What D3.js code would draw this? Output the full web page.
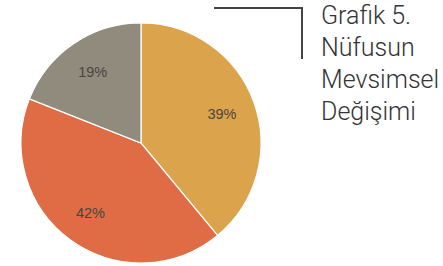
<!DOCTYPE html>
<html>
<head>
<meta charset="utf-8">
<script src="https://cdn.jsdelivr.net/npm/d3@7"></script>
<style>
  body { margin: 0; background: #fff; }
</style>
</head>
<body>
<div id="pie"></div>
<script>
// values
var labels = ["39%", "42%", "19%"];
var values = [39, 42, 19];
var colors = ["#dba34b", "#df6c45", "#918b7e"];
var titleLines = ["Grafik 5.", "Nüfusun", "Mevsimsel", "Değişimi"];

var width = 443,
    height = 266;

var svg = d3.select('#pie')
    .append('svg')
    .attr('width', width)
    .attr('height', height);

var radius = 120;

var g = svg.append("g")
    .attr("transform", "translate(141,143)");

var pie = d3.pie()
    .sort(null)
    .value(d => d);

var arc = d3.arc()
    .innerRadius(0)
    .outerRadius(radius);

var labelArc = d3.arc()
    .innerRadius(86)
    .outerRadius(86);

var slices = pie(values);

g.selectAll("path")
    .data(slices)
    .join("path")
    .attr("d", arc)
    .attr("fill", (d, i) => colors[i])
    .attr("stroke", "#fff")
    .attr("stroke-width", 1.2);

g.selectAll("text")
    .data(slices)
    .join("text")
    .attr("transform", d => "translate(" + labelArc.centroid(d) + ")")
    .attr("text-anchor", "middle")
    .attr("dy", "0.35em")
    .attr("font-family", "Liberation Sans, Arial, sans-serif")
    .attr("font-size", 14.5)
    .attr("fill", "#4a4540")
    .text((d, i) => labels[i]);

// bracket next to the title
svg.append("path")
    .attr("d", "M214,8H302V59")
    .attr("fill", "none")
    .attr("stroke", "#444")
    .attr("stroke-width", 2);

svg.append("g")
    .selectAll("text")
    .data(titleLines)
    .join("text")
    .attr("x", 321)
    .attr("y", (d, i) => 24 + i * 32)
    .attr("font-family", "Roboto, Liberation Sans, sans-serif")
    .attr("font-weight", 300)
    .attr("font-size", 25)
    .attr("fill", "#333")
    .text(d => d);
</script>
</body>
</html>
